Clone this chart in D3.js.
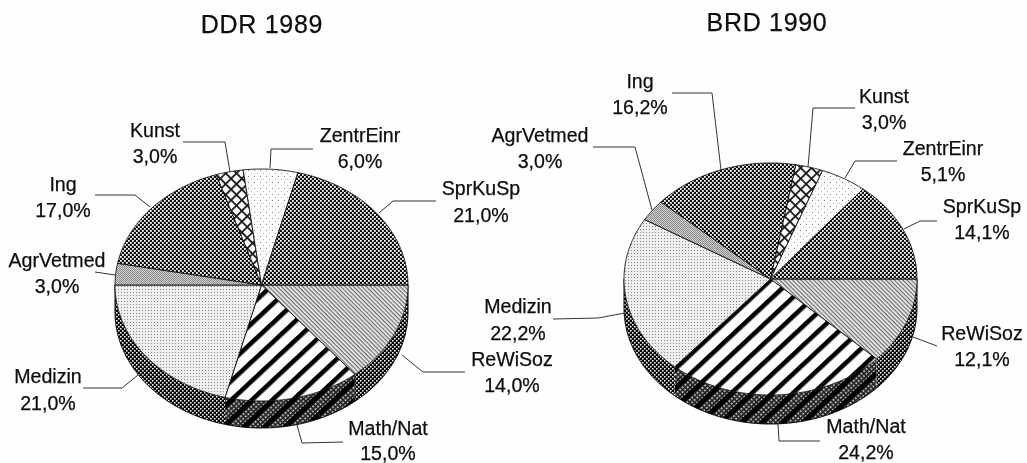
<!DOCTYPE html>
<html><head><meta charset="utf-8">
<style>html,body{margin:0;padding:0;background:#fefefd}svg{display:block}text{font-family:"Liberation Sans",Arial,sans-serif;fill:#0c0c0c;text-anchor:middle}</style>
<script src="https://cdn.jsdelivr.net/npm/d3@7/dist/d3.min.js"></script>
</head><body><div id="chart"></div>
<script>
// ---- data ----
const categories = ["ReWiSoz","Math/Nat","Medizin","AgrVetmed","Ing","Kunst","ZentrEinr","SprKuSp"];
const valuesDDR = [14.0,15.0,21.0,3.0,17.0,3.0,6.0,21.0];
const valuesBRD = [12.1,24.2,22.2,3.0,16.2,3.0,5.1,14.1];
const titleDDR = "DDR 1989";
const titleBRD = "BRD 1990";

// ---- layout (separate from the data) ----
const W = 1027, H = 463;
const geoDDR = {cx:261.5, cy:285, rx:146.5, ry:116, depth:27, titleX:262, titleY:33};
const geoBRD = {cx:770.5, cy:279, rx:146.5, ry:116, depth:29, titleX:767, titleY:31};
const labelsDDR = {
 "ReWiSoz":{x:512,y:[366,392],line:[[465,372],[423,372],[402,355]]},
 "Math/Nat":{x:388,y:[435,459.5],line:[[343,442],[302,443],[297,425]]},
 "Medizin":{x:48,y:[383,410],line:[[83,388],[122,388],[138,375]]},
 "AgrVetmed":{x:57,y:[267,293],line:[[95,272],[115,275]]},
 "Ing":{x:63,y:[191,217],line:[[95,195],[135,195],[150,207]]},
 "Kunst":{x:155,y:[137,163],line:[[183,142],[225,142],[230,172]]},
 "ZentrEinr":{x:360,y:[142,168],line:[[313,149],[271,149],[270,168]]},
 "SprKuSp":{x:481,y:[195,222],line:[[436,201],[393,201],[379,213]]}
};
const labelsBRD = {
 "ReWiSoz":{x:982,y:[340,366],line:[[937,346],[913,337]]},
 "Math/Nat":{x:866,y:[433,458.5],line:[[820,441],[779,441],[778,424]]},
 "Medizin":{x:518,y:[313,340],line:[[553,319],[598,318],[625,313]]},
 "AgrVetmed":{x:540,y:[142,168],line:[[593,147],[635,147],[652,210]]},
 "Ing":{x:640,y:[88,114],line:[[672,93],[712,93],[721,170]]},
 "Kunst":{x:884,y:[103,129],line:[[855,108],[813,108],[808,167]]},
 "ZentrEinr":{x:943,y:[155,181],line:[[897,161],[855,161],[845,178]]},
 "SprKuSp":{x:982,y:[213,239],line:[[937,221],[920,221],[904,229]]}
};
const fmt = v => v.toFixed(1).replace(".",",")+"%";

const svg = d3.select("#chart").append("svg").attr("width",W).attr("height",H);
const defs = svg.append("defs");
defs.append("filter").attr("id","scan").attr("filterUnits","userSpaceOnUse")
  .attr("x",0).attr("y",0).attr("width",W).attr("height",H)
  .append("feGaussianBlur").attr("stdDeviation",0.55);

function pat(id,w,h,transform,draw){
  const p = defs.append("pattern").attr("id",id).attr("patternUnits","userSpaceOnUse")
    .attr("width",w).attr("height",h);
  if(transform) p.attr("patternTransform",transform);
  draw(p);
}
const rect=(p,x,y,w,h,f)=>p.append("rect").attr("x",x).attr("y",y).attr("width",w).attr("height",h).attr("fill",f);

pat("dark",4,4,null,p=>{rect(p,0,0,4,4,"#0a0a0a");rect(p,0,0,1.8,1.8,"#fff");rect(p,2,2,1.8,1.8,"#fff");});
pat("wall",4,4,null,p=>{rect(p,0,0,4,4,"#000");rect(p,0,0,1.6,1.6,"#eee");rect(p,2,2,1.6,1.6,"#eee");});
pat("medizin",3,3,null,p=>{rect(p,0,0,3,3,"#eeeeee");rect(p,1,1,1,1,"#8a8a8a");});
pat("zentr",6,6,null,p=>{rect(p,0,0,6,6,"#fcfcfc");rect(p,2,2,1,1,"#888");rect(p,5,5,1,1,"#bbb");});
pat("agr",2,2,null,p=>{rect(p,0,0,2,2,"#d2d2d2");rect(p,0,0,1,1,"#888");rect(p,1,1,1,1,"#888");});
pat("rewi",3,3,"rotate(45)",p=>{rect(p,0,0,3,3,"#f2f2f2");rect(p,0,0,3,1.3,"#707070");});
pat("kunst",7.6,7.6,"rotate(45)",p=>{rect(p,0,0,7.6,7.6,"#fdfdfd");rect(p,0,0,7.6,1.8,"#1a1a1a");rect(p,0,0,1.8,7.6,"#1a1a1a");});
pat("stripes",14,14,"rotate(-43)",p=>{rect(p,0,0,14,14,"#fdfdfd");rect(p,0,0,14,4.6,"#000");});
pat("wallStripes",14,14,"rotate(-43)",p=>{rect(p,0,0,14,14,"#222");rect(p,0,0,14,5,"#000");
  d3.range(0,14,3.5).forEach(x=>d3.range(6,14,3.5).forEach(y=>rect(p,x,y,1.6,1.6,"#eee")));});

const fills = {"ReWiSoz":"rewi","Math/Nat":"stripes","Medizin":"medizin","AgrVetmed":"agr","Ing":"dark","Kunst":"kunst","ZentrEinr":"zentr","SprKuSp":"dark"};
const wallFills = {"Math/Nat":"wallStripes"};

const pieGen = d3.pie().sort(null).startAngle(Math.PI/2).endAngle(Math.PI/2+2*Math.PI);
const root = svg.append("g").attr("filter","url(#scan)");
root.append("rect").attr("width",W).attr("height",H).attr("fill","#fefefd");

function drawPie(values,geo,labels,title){
  const x = d3.scaleLinear().domain([-1,1]).range([geo.cx-geo.rx,geo.cx+geo.rx]);
  const y = d3.scaleLinear().domain([-1,1]).range([geo.cy-geo.ry,geo.cy+geo.ry]);
  const line = d3.line();
  const rim = (a0,a1,dy=0)=>{
    const n = Math.max(2,Math.ceil(Math.abs(a1-a0)/0.01));
    return d3.range(n+1).map(i=>{const a=a0+(a1-a0)*i/n;return [x(Math.sin(a)),y(-Math.cos(a))+dy];});
  };
  const arcs = pieGen(values).map((d,i)=>({...d,name:categories[i]}));
  const g = root.append("g");
  // side wall: the part of each slice that faces the viewer
  arcs.forEach(d=>{
    const a0=Math.max(d.startAngle,Math.PI/2), a1=Math.min(d.endAngle,3*Math.PI/2);
    if(a1<=a0) return;
    const pts=[...rim(a0,a1),...rim(a1,a0,geo.depth)];
    g.append("path").attr("d",line(pts)+"Z").attr("fill",`url(#${wallFills[d.name]||"wall"})`);
  });
  const outline=[...rim(Math.PI/2,3*Math.PI/2,geo.depth)];
  g.append("path").attr("d",line(outline)).attr("fill","none").attr("stroke","#000").attr("stroke-width",1);
  g.append("path").attr("d",line([[x(1),y(0)],[x(1),y(0)+geo.depth]])).attr("stroke","#000").attr("stroke-width",1);
  g.append("path").attr("d",line([[x(-1),y(0)],[x(-1),y(0)+geo.depth]])).attr("stroke","#000").attr("stroke-width",1);
  // top face
  g.selectAll("path.slice").data(arcs).join("path").attr("class","slice")
    .attr("d",d=>line([[x(0),y(0)],...rim(d.startAngle,d.endAngle)])+"Z")
    .attr("fill",d=>`url(#${fills[d.name]})`)
    .attr("stroke","#111").attr("stroke-width",0.9);
  // leaders and labels
  arcs.forEach(d=>{
    const l=labels[d.name];
    g.append("path").attr("d",line(l.line)).attr("fill","none").attr("stroke","#333").attr("stroke-width",1);
    g.append("text").attr("x",l.x).attr("y",l.y[0]).attr("font-size",19.6).attr("stroke","#111").attr("stroke-width",0.25).text(d.name);
    g.append("text").attr("x",l.x).attr("y",l.y[1]).attr("font-size",19.6).attr("stroke","#111").attr("stroke-width",0.25).text(fmt(d.data));
  });
  g.append("text").attr("x",geo.titleX).attr("y",geo.titleY).attr("font-size",25).attr("letter-spacing",0.7).attr("stroke","#111").attr("stroke-width",0.25).text(title);
}
drawPie(valuesDDR,geoDDR,labelsDDR,titleDDR);
drawPie(valuesBRD,geoBRD,labelsBRD,titleBRD);
</script></body></html>
